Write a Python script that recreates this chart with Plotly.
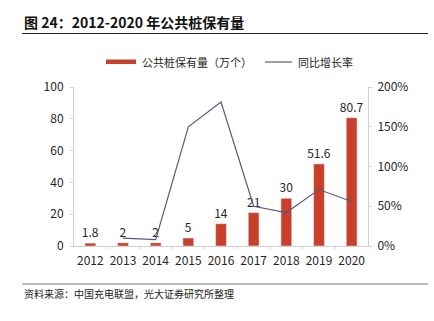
import plotly.graph_objects as go

years = ["2012", "2013", "2014", "2015", "2016", "2017", "2018", "2019", "2020"]
stock = [1.8, 2, 2, 5, 14, 21, 30, 51.6, 80.7]  # 万个
growth_years = ["2013", "2014", "2015", "2016", "2017", "2018", "2019", "2020"]
growth = [0.10, 0.08, 1.50, 1.81, 0.50, 0.42, 0.71, 0.56]
left_ticks = [0, 20, 40, 60, 80, 100]
right_ticks = [0, 0.5, 1.0, 1.5, 2.0]

BAR = "#C8402A"
LINE = "#5A5880"
AXIS = "#D0D0D0"
TXT = "#262626"
FONT = "Noto Sans CJK SC, Noto Sans, sans-serif"
CJK = "Noto Sans CJK SC, sans-serif"

W, H = 434, 321
L, R, T, B = 74, 66, 87, 75

fig = go.Figure()
fig.add_trace(go.Bar(
    x=years, y=stock, marker_color=BAR, width=0.33,
    text=[f"{v:g}" for v in stock], textposition="outside", constraintext="none",
    textfont=dict(size=12, color=TXT, family=FONT), cliponaxis=False,
    name="公共桩保有量（万个）", showlegend=False,
))
fig.add_trace(go.Scatter(
    x=growth_years, y=growth, yaxis="y2", mode="lines",
    line=dict(color=LINE, width=1.2), name="同比增长率", showlegend=False,
))

tickfont = dict(size=12, color=TXT, family=FONT)
fig.update_layout(
    width=W, height=H, margin=dict(l=L, r=R, t=T, b=B),
    paper_bgcolor="white", plot_bgcolor="white",
    font=dict(family=FONT, size=12, color=TXT),
    xaxis=dict(type="category", showgrid=False, showline=True, linecolor=AXIS, linewidth=1,
               ticks="outside", ticklen=0, ticklabelstandoff=4, tickfont=tickfont),
    yaxis=dict(range=[0, 100], tickvals=left_ticks, showgrid=False, showline=True,
               linecolor=AXIS, linewidth=1, ticks="outside", ticklen=3, tickcolor=AXIS,
               ticklabelstandoff=4, tickfont=tickfont, zeroline=False),
    yaxis2=dict(range=[0, 2.0], tickvals=right_ticks, tickformat=".0%", overlaying="y",
                side="right", showgrid=False, showline=True, linecolor=AXIS, linewidth=1,
                ticks="outside", ticklen=3, tickcolor=AXIS, ticklabelstandoff=3,
                tickfont=tickfont, zeroline=False),
)

# category tick marks between bars on the x axis
for i in range(1, len(years)):
    fig.add_shape(type="line", xref="x", yref="paper", x0=i - 0.5, x1=i - 0.5,
                  y0=0, y1=-0.02, line=dict(color=AXIS, width=1))

def py(y):
    return 1 - (y - T) / (H - T - B)

def px(x):
    return (x - L) / (W - L - R)

# title and rules
fig.add_annotation(text="<b>图 24：2012-2020 年公共桩保有量</b>", xref="paper", yref="paper",
                   x=px(22), y=py(22), xanchor="left", yanchor="middle", showarrow=False,
                   font=dict(size=14, color="#111111", family=CJK))
fig.add_shape(type="line", xref="paper", yref="paper", x0=px(22), x1=px(428),
              y0=py(33.5), y1=py(33.5), line=dict(color="#222222", width=1))
fig.add_shape(type="line", xref="paper", yref="paper", x0=px(22), x1=px(428),
              y0=py(284), y1=py(284), line=dict(color="#777777", width=1))
fig.add_annotation(text="资料来源：中国充电联盟，光大证券研究所整理", xref="paper", yref="paper",
                   x=px(22), y=py(293), xanchor="left", yanchor="middle", showarrow=False,
                   font=dict(size=10, color="#222222", family=CJK))

# legend
fig.add_shape(type="rect", xref="paper", yref="paper", x0=px(106), x1=px(136),
              y0=py(59.5), y1=py(64), fillcolor=BAR, line=dict(width=0))
fig.add_annotation(text="公共桩保有量（万个）", xref="paper", yref="paper",
                   x=px(140), y=py(62), xanchor="left", yanchor="middle", showarrow=False,
                   font=dict(size=11, color=TXT, family=CJK))
fig.add_shape(type="line", xref="paper", yref="paper", x0=px(265), x1=px(292),
              y0=py(62), y1=py(62), line=dict(color=LINE, width=1.2))
fig.add_annotation(text="同比增长率", xref="paper", yref="paper",
                   x=px(296), y=py(62), xanchor="left", yanchor="middle", showarrow=False,
                   font=dict(size=11, color=TXT, family=CJK))

fig.write_html("out.html")
